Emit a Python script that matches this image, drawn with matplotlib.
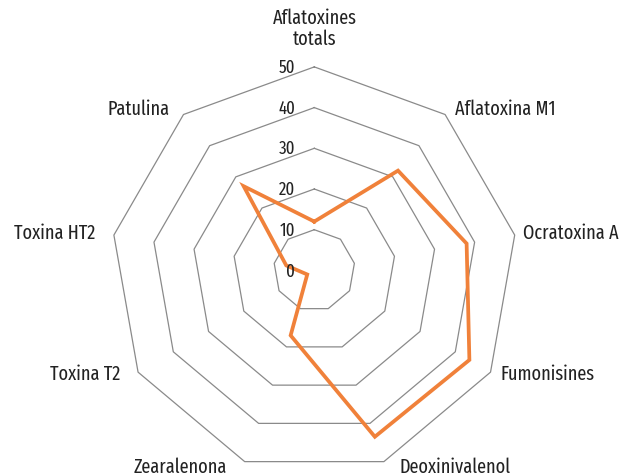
import numpy as np
import matplotlib
matplotlib.use("Agg")
import matplotlib.pyplot as plt
from matplotlib import font_manager

# categories, clockwise from the top
categories = ["Aflatoxines\ntotals", "Aflatoxina M1", "Ocratoxina A", "Fumonisines",
              "Deoxinivalenol", "Zearalenona", "Toxina T2", "Toxina HT2", "Patulina"]
values = [12, 32, 38, 44, 43.5, 17, 2, 7, 27]
rings = [10, 20, 30, 40, 50]
tick_labels = ["0", "10", "20", "30", "40", "50"]

# label placement (pixel offsets from the outer vertex)
label_offsets = [(0, 39), (10, 6.5), (8, 3), (9.5, -1), (16, -4.5),
                 (-18, -4.5), (-18, -1), (-19, 3), (-13.5, 6.5)]

# pick a narrow sans that is installed
available = set(f.name for f in font_manager.fontManager.ttflist)
wanted = ["Fira Sans Extra Condensed", "Fira Sans Condensed", "PT Sans Narrow",
          "Roboto Condensed", "Ubuntu Condensed", "Archivo Narrow"]
family = next((f for f in wanted if f in available), "DejaVu Sans")
plt.rcParams['font.family'] = [family, 'DejaVu Sans']

text_color = "#222222"
grid_color = "#8a8a8a"
line_color = "#F0813A"

fig = plt.figure(figsize=(6.19, 4.77), dpi=100)

# size the text so "Ocratoxina A" is about 95 px wide, as in the reference
probe = fig.text(0, 0, "Ocratoxina A", fontsize=14.5)
renderer = fig.canvas.get_renderer()
w = probe.get_window_extent(renderer).width
probe.remove()
label_size = 14.5 * 95 / w
tick_size = label_size * 0.92

cx, cy, R = 314.3, 477 - 271.4, 203.5
ax = fig.add_axes([(cx - R) / 619, (cy - R) / 477, 2 * R / 619, 2 * R / 477], projection="polar")
ax.set_theta_zero_location("N")
ax.set_theta_direction(-1)
ax.set_ylim(0, 50)
ax.grid(False)
ax.set_xticks([])
ax.set_yticks([])
ax.spines["polar"].set_visible(False)
ax.patch.set_visible(False)

n = len(categories)
theta = np.arange(n) * 2 * np.pi / n
theta_closed = np.append(theta, theta[0])

# polygon grid
for r in rings:
    ax.plot(theta_closed, [r] * (n + 1), color=grid_color, lw=0.9, clip_on=False, zorder=1)

# data line
vals_closed = values + [values[0]]
ax.plot(theta_closed, vals_closed, color=line_color, lw=2.7, clip_on=False, zorder=3,
        solid_joinstyle="miter")

# radial tick labels
for i, lab in enumerate(tick_labels):
    ax.annotate(lab, xy=(0, i * 10), xytext=(-19, 0), textcoords="offset pixels",
                ha="right", va="center", fontsize=tick_size, color=text_color, zorder=4)

# category labels
for i, (cat, off) in enumerate(zip(categories, label_offsets)):
    if off[0] == 0:
        ha = "center"
    elif off[0] > 0:
        ha = "left"
    else:
        ha = "right"
    ax.annotate(cat, xy=(theta[i], 50), xytext=off, textcoords="offset pixels",
                ha=ha, va="center", fontsize=label_size, color=text_color,
                linespacing=1.1, annotation_clip=False)

fig.savefig("out.png", dpi=100)
